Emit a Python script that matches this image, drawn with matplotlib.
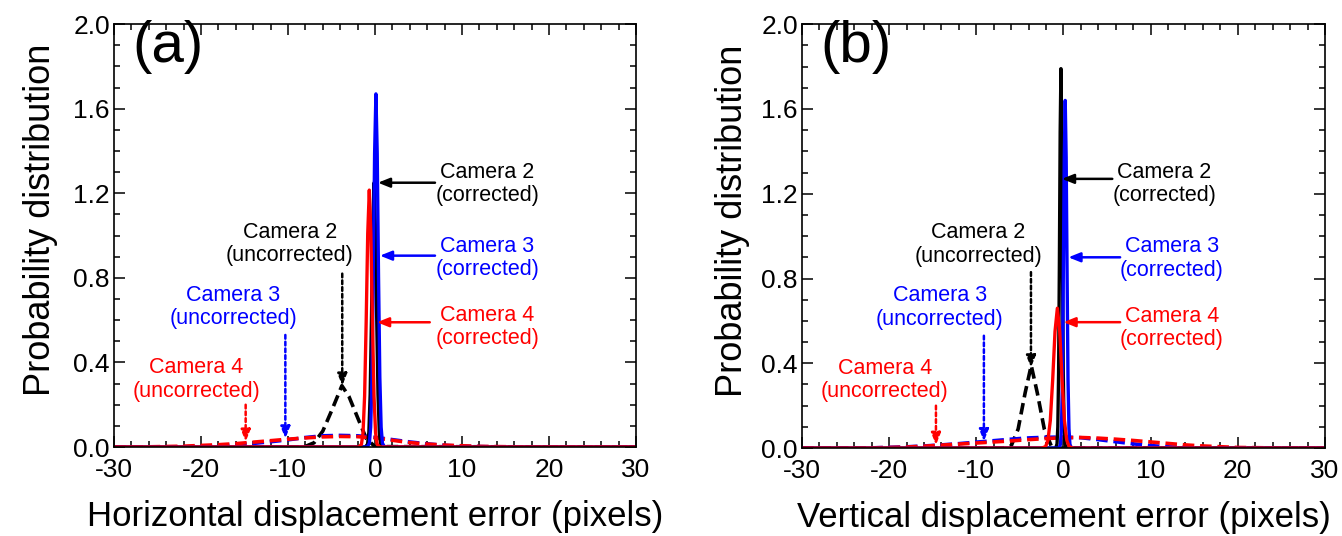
import matplotlib
matplotlib.use('Agg')
import matplotlib.pyplot as plt
from matplotlib.ticker import MultipleLocator, FormatStrFormatter

plt.rcParams['font.family'] = ['Liberation Sans', 'DejaVu Sans']
plt.rcParams['axes.unicode_minus'] = False

# ---- panel (a): horizontal displacement error ----
a_c2u_x = [-30, -9, -8, -7, -6, -5, -3.8, -3, -2, -1, 0, 30]
a_c2u_y = [0, 0, 0.003, 0.02, 0.075, 0.17, 0.29, 0.24, 0.14, 0.04, 0.002, 0]
grid_a = [-30, -26, -22, -18, -16, -14, -12, -10, -8, -6, -4, -2, 0, 2, 4, 6, 8, 10, 12, 14, 18, 22, 30]
a_c3u_y = [0, 0, 0.001, 0.005, 0.01, 0.017, 0.025, 0.034, 0.045, 0.053, 0.055, 0.053, 0.046, 0.035, 0.024, 0.015, 0.008, 0.004, 0.002, 0.001, 0, 0, 0]
a_c4u_y = [0, 0.001, 0.004, 0.011, 0.016, 0.023, 0.03, 0.037, 0.043, 0.048, 0.05, 0.049, 0.043, 0.032, 0.021, 0.014, 0.009, 0.006, 0.003, 0.002, 0, 0, 0]
a_c2c_x = [-30, -1.1, -0.85, -0.7, -0.55, -0.4, -0.25, -0.1, 0.05, 0.2, 0.35, 0.5, 0.65, 0.9, 30]
a_c2c_y = [0, 0, 0.014, 0.07, 0.25, 0.61, 1.04, 1.25, 1.04, 0.61, 0.25, 0.07, 0.014, 0, 0]
a_c3c_x = [-30, -0.89, -0.64, -0.49, -0.34, -0.19, -0.04, 0.11, 0.26, 0.41, 0.56, 0.71, 0.86, 1.11, 30]
a_c3c_y = [0, 0, 0.018, 0.094, 0.33, 0.81, 1.39, 1.67, 1.39, 0.81, 0.33, 0.094, 0.018, 0, 0]
a_c4c_x = [-30, -1.85, -1.55, -1.37, -1.19, -1.01, -0.83, -0.65, -0.47, -0.29, -0.11, 0.07, 0.25, 0.55, 30]
a_c4c_y = [0, 0, 0.013, 0.068, 0.24, 0.59, 1.01, 1.215, 1.01, 0.59, 0.24, 0.068, 0.013, 0, 0]

# ---- panel (b): vertical displacement error ----
b_c2u_x = [-30, -7, -6, -5.2, -4.4, -3.7, -3, -2.2, -1.4, -0.6, 30]
b_c2u_y = [0, 0, 0.01, 0.09, 0.26, 0.39, 0.26, 0.09, 0.01, 0, 0]
grid_b = [-30, -26, -22, -18, -16, -14, -12, -10, -8, -6, -4, -2, 0, 2, 4, 6, 8, 10, 12, 14, 16, 20, 24, 30]
b_c3u_y = [0, 0, 0.001, 0.006, 0.01, 0.015, 0.021, 0.028, 0.035, 0.042, 0.048, 0.051, 0.052, 0.049, 0.04, 0.03, 0.02, 0.012, 0.006, 0.003, 0.001, 0, 0, 0]
b_c4u_y = [0, 0, 0.001, 0.005, 0.009, 0.014, 0.019, 0.024, 0.029, 0.034, 0.04, 0.045, 0.049, 0.05, 0.047, 0.042, 0.036, 0.029, 0.022, 0.015, 0.01, 0.003, 0.001, 0]
b_c2c_x = [-30, -0.89, -0.74, -0.65, -0.56, -0.47, -0.38, -0.29, -0.2, -0.11, -0.02, 0.07, 0.16, 0.31, 30]
b_c2c_y = [0, 0, 0.02, 0.1, 0.355, 0.87, 1.49, 1.79, 1.49, 0.87, 0.355, 0.1, 0.02, 0, 0]
b_c3c_x = [-30, -0.52, -0.34, -0.23, -0.12, -0.02, 0.09, 0.2, 0.31, 0.42, 0.52, 0.63, 0.74, 0.92, 30]
b_c3c_y = [0, 0, 0.018, 0.092, 0.325, 0.8, 1.37, 1.64, 1.37, 0.8, 0.325, 0.092, 0.018, 0, 0]
b_c4c_x = [-30, -2.5, -2.05, -1.78, -1.51, -1.24, -0.97, -0.7, -0.43, -0.16, 0.11, 0.38, 0.65, 1.1, 30]
b_c4c_y = [0, 0, 0.007, 0.037, 0.13, 0.32, 0.55, 0.66, 0.55, 0.32, 0.13, 0.037, 0.007, 0, 0]

BLK, BLU, RED = 'black', '#0000ff', '#ff0000'
DASH = (0, (3.2, 1.6))
FS_NOTE = 15.5

fig = plt.figure(figsize=(13.42, 5.36), dpi=100)
axa = fig.add_axes([0.0849, 0.166, 0.389, 0.789])
axb = fig.add_axes([0.5976, 0.164, 0.3897, 0.791])

def draw(ax, dashed, solid):
    for x, y, c in dashed:
        ax.plot(x, y, color=c, lw=2.6, ls=DASH)
    for x, y, c in solid:
        ax.plot(x, y, color=c, lw=2.4)

draw(axa,
     [(a_c2u_x, a_c2u_y, BLK), (grid_a, a_c3u_y, BLU), (grid_a, a_c4u_y, RED)],
     [(a_c2c_x, a_c2c_y, BLK), (a_c3c_x, a_c3c_y, BLU), (a_c4c_x, a_c4c_y, RED)])
draw(axb,
     [(b_c2u_x, b_c2u_y, BLK), (grid_b, b_c3u_y, BLU), (grid_b, b_c4u_y, RED)],
     [(b_c2c_x, b_c2c_y, BLK), (b_c3c_x, b_c3c_y, BLU), (b_c4c_x, b_c4c_y, RED)])

def note(ax, txt, xy, tip, tail, c, dotted):
    ax.text(xy[0], xy[1], txt, color=c, fontsize=FS_NOTE, ha='center', va='center',
            multialignment='center', linespacing=1.15)
    ax.annotate('', xy=tip, xytext=tail,
                arrowprops=dict(arrowstyle='-|>,head_length=0.7,head_width=0.28', color=c,
                                lw=1.8, ls=(0, (1.5, 1.2)) if dotted else '-', shrinkA=0, shrinkB=0))

def style(ax, tag, xlabel, ylx):
    ax.set_xlim(-30, 30); ax.set_ylim(0, 2.0)
    ax.xaxis.set_major_locator(MultipleLocator(10)); ax.xaxis.set_minor_locator(MultipleLocator(2))
    ax.yaxis.set_major_locator(MultipleLocator(0.4)); ax.yaxis.set_minor_locator(MultipleLocator(0.1))
    ax.yaxis.set_major_formatter(FormatStrFormatter('%.1f'))
    ax.tick_params(which='both', direction='in', top=True, right=True, width=1.1, labelsize=19)
    ax.tick_params(which='major', length=8)
    ax.tick_params(which='minor', length=4)
    ax.tick_params(axis='x', pad=8); ax.tick_params(axis='y', pad=3)
    for s in ax.spines.values():
        s.set_linewidth(1.2)
    ax.set_xlabel(xlabel, fontsize=25, labelpad=13)
    ax.set_ylabel('Probability distribution', fontsize=26)
    ax.yaxis.set_label_coords(ylx, 0.537)
    ax.text(-27.9, 1.89, tag, fontsize=42, ha='left', va='center')

style(axa, '(a)', 'Horizontal displacement error (pixels)', -0.107)
style(axb, '(b)', 'Vertical displacement error (pixels)', -0.099)

# corrected / uncorrected labels, panel (a)
note(axa, 'Camera 2\n(corrected)', (12.9, 1.245), (0.34, 1.25), (6.9, 1.25), BLK, False)
note(axa, 'Camera 3\n(corrected)', (12.9, 0.894), (0.57, 0.905), (6.9, 0.905), BLU, False)
note(axa, 'Camera 4\n(corrected)', (12.9, 0.567), (0.23, 0.59), (6.3, 0.59), RED, False)
note(axa, 'Camera 2\n(uncorrected)', (-9.8, 0.96), (-3.76, 0.29), (-3.76, 0.82), BLK, True)
note(axa, 'Camera 3\n(uncorrected)', (-16.3, 0.663), (-10.3, 0.04), (-10.3, 0.53), BLU, True)
note(axa, 'Camera 4\n(uncorrected)', (-20.5, 0.32), (-14.86, 0.025), (-14.86, 0.2), RED, True)

# panel (b)
note(axb, 'Camera 2\n(corrected)', (11.6, 1.245), (-0.18, 1.27), (5.6, 1.27), BLK, False)
note(axb, 'Camera 3\n(corrected)', (12.45, 0.894), (0.56, 0.9), (6.5, 0.9), BLU, False)
note(axb, 'Camera 4\n(corrected)', (12.45, 0.567), (0.0, 0.594), (6.5, 0.594), RED, False)
note(axb, 'Camera 2\n(uncorrected)', (-9.8, 0.96), (-3.73, 0.38), (-3.73, 0.83), BLK, True)
note(axb, 'Camera 3\n(uncorrected)', (-14.2, 0.663), (-9.13, 0.032), (-9.13, 0.53), BLU, True)
note(axb, 'Camera 4\n(uncorrected)', (-20.5, 0.32), (-14.63, 0.015), (-14.63, 0.2), RED, True)

fig.savefig('out.png', dpi=100)
